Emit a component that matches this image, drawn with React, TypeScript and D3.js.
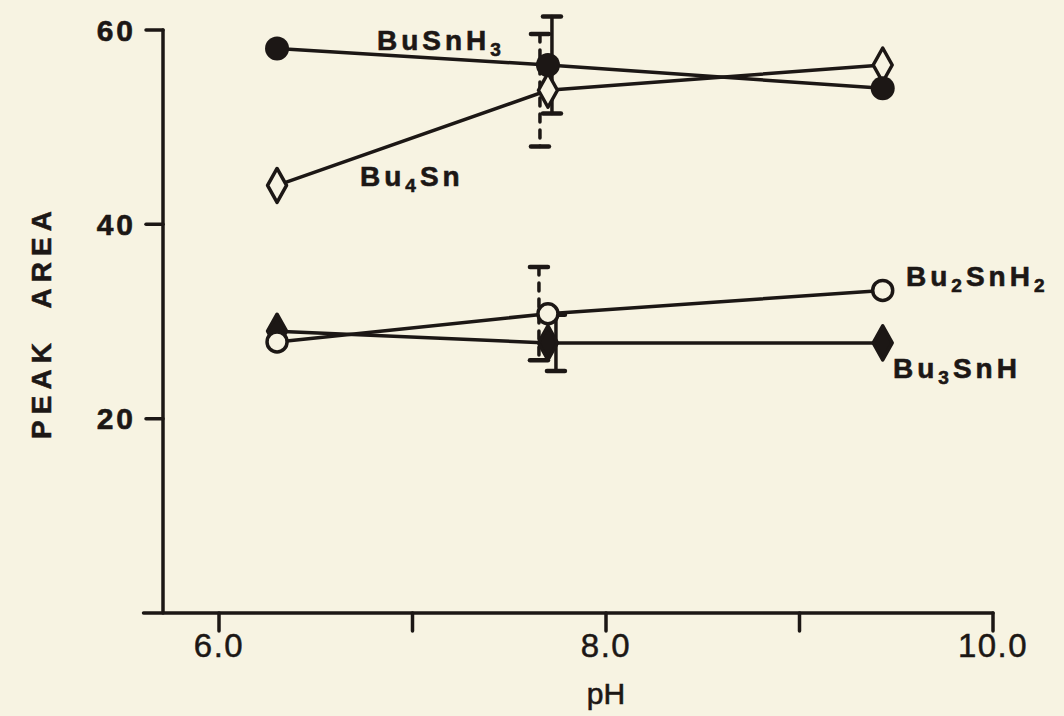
import React from "react";
import * as d3 from "d3";

const pH = [6.3, 7.7, 9.43];
const buSnH3 = [58.1, 56.4, 54.0];
const bu4Sn = [44.0, 53.8, 56.4];
const bu2SnH2 = [27.9, 30.8, 33.2];
const bu3SnH = [29.0, 27.8, 27.8];
// error bars at the middle point (index 1), half-widths
const errIndex = 1;
const buSnH3Err = 5.0;
const bu4SnErr = 5.8;
const bu2SnH2Err = 4.8;
const bu3SnHErr = 2.9;

const xTicks = [6, 7, 8, 9, 10];
const xTickLabels = ["6.0", "", "8.0", "", "10.0"];
const yTicks = [20, 40, 60];
const yTickLabels = ["20", "40", "60"];

const W = 1064;
const H = 716;
const BG = "#f7f3e2";
const INK = "#1c1715";

export default function App() {
  const x = d3.scaleLinear().domain([6, 10]).range([219, 993]);
  const y = d3.scaleLinear().domain([0, 60]).range([613, 30]);
  const axisX = 163;
  const xStart = 5.61;

  const line = d3
    .line<number>()
    .x((_, i) => x(pH[i]))
    .y((d) => y(d));

  const font = "'Liberation Sans', Arial, Helvetica, sans-serif";

  const errBar = (
    vals: number[],
    err: number,
    dx: number,
    dashed: boolean,
    key: string
  ) => {
    const cx = x(pH[errIndex]) + dx;
    const yTop = y(vals[errIndex] + err);
    const yBot = y(vals[errIndex] - err);
    return (
      <g key={key} stroke={INK} strokeLinecap="round">
        <line
          x1={cx}
          x2={cx}
          y1={yTop}
          y2={yBot}
          strokeWidth={3.5}
          strokeDasharray={dashed ? "8 8" : undefined}
        />
        <line x1={cx - 9} x2={cx + 9} y1={yTop} y2={yTop} strokeWidth={4.5} />
        <line x1={cx - 9} x2={cx + 9} y1={yBot} y2={yBot} strokeWidth={4.5} />
      </g>
    );
  };

  const diamond = (cx: number, cy: number, filled: boolean, key: string) => {
    const w = 9.5,
      h = 17;
    const d = `M${cx},${cy - h}L${cx + w},${cy}L${cx},${cy + h}L${cx - w},${cy}Z`;
    return (
      <path
        key={key}
        d={d}
        fill={filled ? INK : BG}
        stroke={INK}
        strokeWidth={3.5}
        strokeLinejoin="round"
      />
    );
  };

  const sub = (t: string) => (
    <tspan fontSize={19} dy={6}>
      {t}
    </tspan>
  );

  const labelStyle = {
    fontFamily: font,
    fontWeight: 700,
    fontSize: 28,
    letterSpacing: 4,
    fill: INK,
    stroke: INK,
    strokeWidth: 0.6,
  } as React.CSSProperties;

  return (
    <svg
      width={W}
      height={H}
      style={{ position: "fixed", left: 0, top: 0, background: BG }}
    >
      <rect width={W} height={H} fill={BG} />
      {/* axes */}
      <g stroke={INK} strokeWidth={3.5} strokeLinecap="round">
        <line x1={axisX} x2={axisX} y1={y(60)} y2={y(0)} />
        <line x1={x(xStart)} x2={x(10)} y1={y(0)} y2={y(0)} />
        {yTicks.map((t) => (
          <line key={"yt" + t} x1={axisX - 17} x2={axisX} y1={y(t)} y2={y(t)} />
        ))}
        {xTicks.map((t) => (
          <line key={"xt" + t} x1={x(t)} x2={x(t)} y1={y(0)} y2={y(0) + 18} />
        ))}
      </g>
      {yTicks.map((t, i) => (
        <text
          key={"yl" + t}
          x={136}
          y={y(t)}
          dy="0.36em"
          textAnchor="end"
          fontFamily={font}
          fontWeight={700}
          fontSize={30}
          letterSpacing={3}
          fill={INK}
          stroke={INK}
          strokeWidth={0.6}
        >
          {yTickLabels[i]}
        </text>
      ))}
      {xTicks.map((t, i) =>
        xTickLabels[i] ? (
          <text
            key={"xl" + t}
            x={x(t)}
            y={657}
            textAnchor="middle"
            fontFamily={font}
            fontWeight={400}
            fontSize={33}
            letterSpacing={1.5}
            fill={INK}
            stroke={INK}
            strokeWidth={0.5}
          >
            {xTickLabels[i]}
          </text>
        ) : null
      )}
      <text
        x={606}
        y={704}
        textAnchor="middle"
        fontFamily={font}
        fontSize={30}
        fill={INK}
        stroke={INK}
        strokeWidth={0.6}
      >
        pH
      </text>
      <text
        transform={`translate(51,322) rotate(-90)`}
        textAnchor="middle"
        fontFamily={font}
        fontWeight={700}
        fontSize={28}
        letterSpacing={6}
        wordSpacing={16}
        fill={INK}
        stroke={INK}
        strokeWidth={0.5}
      >
        PEAK AREA
      </text>

      {/* series lines */}
      <g fill="none" stroke={INK} strokeWidth={3.5}>
        <path d={line(buSnH3) || ""} />
        <path d={line(bu4Sn) || ""} />
        <path d={line(bu2SnH2) || ""} />
        <path d={line(bu3SnH) || ""} />
      </g>

      {/* error bars */}
      {errBar(buSnH3, buSnH3Err, 4, false, "e1")}
      {errBar(bu4Sn, bu4SnErr, -8, true, "e2")}
      {errBar(bu2SnH2, bu2SnH2Err, -9, true, "e3")}
      {errBar(bu3SnH, bu3SnHErr, 8, false, "e4")}

      {/* markers */}
      {bu3SnH.map((v, i) => diamond(x(pH[i]), y(v), true, "d3" + i))}
      {bu2SnH2.map((v, i) => (
        <circle
          key={"c2" + i}
          cx={x(pH[i])}
          cy={y(v)}
          r={10}
          fill={BG}
          stroke={INK}
          strokeWidth={3.5}
        />
      ))}
      {bu4Sn.map((v, i) => diamond(x(pH[i]), y(v), false, "d4" + i))}
      {buSnH3.map((v, i) => (
        <circle key={"c1" + i} cx={x(pH[i])} cy={y(v)} r={12} fill={INK} />
      ))}

      {/* labels */}
      <text x={377} y={50} style={labelStyle}>
        BuSnH{sub("3")}
      </text>
      <text x={360} y={186} style={labelStyle}>
        Bu{sub("4")}
        <tspan dy={-6}>Sn</tspan>
      </text>
      <text x={906} y={286} style={labelStyle}>
        Bu{sub("2")}
        <tspan dy={-6}>SnH</tspan>
        {sub("2")}
      </text>
      <text x={893} y={378} style={labelStyle}>
        Bu{sub("3")}
        <tspan dy={-6}>SnH</tspan>
      </text>
    </svg>
  );
}
